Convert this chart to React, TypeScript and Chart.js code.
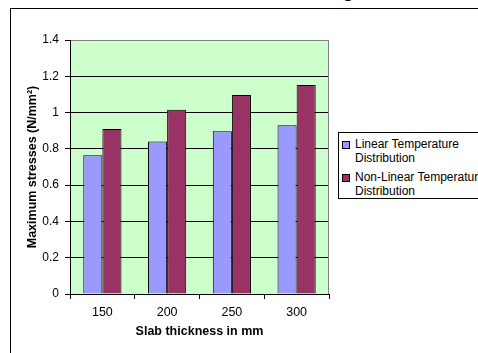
import React, { useEffect, useRef } from "react";
import { Chart, registerables } from "chart.js";

Chart.register(...registerables);

// Slab thickness categories (mm)
const categories = ["150", "200", "250", "300"];
// Maximum stresses (N/mm²) for each temperature distribution
const linearStress = [0.765, 0.84, 0.897, 0.93];
const nonLinearStress = [0.91, 1.016, 1.097, 1.152];

const seriesLabels = [
  ["Linear Temperature", "Distribution"],
  ["Non-Linear Temperature", "Distribution"],
];
const seriesColors = ["#9999FF", "#993366"];

const yMin = 0;
const yMax = 1.4;
const yStep = 0.2;

const FONT = "'Liberation Sans', Arial, Helvetica, sans-serif";

// Pale green plot area with a grey right edge
const plotFrame = {
  id: "plotFrame",
  beforeDraw(chart: any) {
    const { ctx, chartArea } = chart;
    const { left, top, right, bottom } = chartArea;
    ctx.save();
    ctx.fillStyle = "#CCFFCC";
    ctx.fillRect(left, top, right - left, bottom - top);
    ctx.restore();
  },
  beforeDatasetsDraw(chart: any) {
    const { ctx, chartArea } = chart;
    const { top, right, bottom } = chartArea;
    ctx.save();
    ctx.strokeStyle = "#808080";
    ctx.lineWidth = 1;
    ctx.beginPath();
    ctx.moveTo(Math.round(right) - 0.5, Math.round(top) + 0.5);
    ctx.lineTo(Math.round(right) - 0.5, Math.round(bottom));
    ctx.stroke();
    ctx.restore();
  },
};

export default function App() {
  const canvasRef = useRef<HTMLCanvasElement | null>(null);

  useEffect(() => {
    const canvas = canvasRef.current;
    if (!canvas) return;
    const chart = new Chart(canvas, {
      type: "bar",
      data: {
        labels: categories,
        datasets: [
          {
            label: seriesLabels[0].join(" "),
            data: linearStress,
            backgroundColor: seriesColors[0],
            borderColor: "#000000",
            borderWidth: 1,
            barPercentage: 1,
            categoryPercentage: 0.59,
          },
          {
            label: seriesLabels[1].join(" "),
            data: nonLinearStress,
            backgroundColor: seriesColors[1],
            borderColor: "#000000",
            borderWidth: 1,
            barPercentage: 1,
            categoryPercentage: 0.59,
          },
        ],
      },
      options: {
        responsive: false,
        animation: false,
        devicePixelRatio: 1,
        layout: { padding: { left: 20, right: 149, top: 40, bottom: 0 } },
        plugins: {
          legend: { display: false },
          tooltip: { enabled: false },
          title: { display: false },
        },
        scales: {
          x: {
            type: "category",
            offset: true,
            grid: {
              offset: true,
              drawOnChartArea: false,
              drawTicks: true,
              tickLength: 5,
              color: "#000000",
              tickColor: "#000000",
            },
            border: { color: "#000000", width: 1 },
            ticks: {
              color: "#000000",
              padding: 6,
              font: { family: FONT, size: 12.5 },
            },
            title: {
              display: true,
              text: "Slab thickness in mm",
              color: "#000000",
              font: { family: FONT, size: 12.5, weight: "bold" },
              padding: { top: 0, bottom: 14 },
            },
            afterFit(scale: any) {
              scale.height = 59;
            },
          },
          y: {
            min: yMin,
            max: yMax,
            grid: {
              drawTicks: true,
              tickLength: 5,
              color: (ctx: any) =>
                ctx.tick && Math.abs(ctx.tick.value - yMax) < 1e-9 ? "#808080" : "#000000",
              tickColor: "#000000",
            },
            border: { color: "#000000", width: 1 },
            ticks: {
              stepSize: yStep,
              color: "#000000",
              padding: 6,
              font: { family: FONT, size: 12 },
              callback: (value: any) => String(Number(Number(value).toFixed(1))),
            },
            title: {
              display: true,
              text: "Maximum stresses (N/mm²)",
              color: "#000000",
              font: { family: FONT, size: 12.5, weight: "bold" },
              padding: { top: 5, bottom: 0 },
            },
            afterFit(scale: any) {
              scale.width = 50;
            },
          },
        },
      },
      plugins: [plotFrame],
    });
    return () => chart.destroy();
  }, []);

  return (
    <div
      style={{
        position: "absolute",
        left: 0,
        top: 0,
        width: 478,
        height: 353,
        overflow: "hidden",
        background: "#ffffff",
      }}
    >
      <div
        style={{
          position: "absolute",
          left: 0,
          right: 126,
          top: -16,
          textAlign: "right",
          fontFamily: "'Liberation Serif', 'Times New Roman', serif",
          fontWeight: "bold",
          fontSize: 16,
          lineHeight: "16px",
          whiteSpace: "nowrap",
          color: "#000",
        }}
      >
        Maximum Stresses due to Thermal Loading
      </div>
      <div
        style={{
          position: "absolute",
          left: 10,
          top: 8,
          width: 520,
          height: 400,
          border: "1px solid #000",
          boxSizing: "border-box",
        }}
      />
      <canvas
        ref={canvasRef}
        width={478}
        height={353}
        style={{ position: "absolute", left: 0, top: 0, width: 478, height: 353 }}
      />
      <div
        style={{
          position: "absolute",
          left: 338,
          top: 132,
          width: 170,
          height: 67,
          border: "1px solid #000",
          boxSizing: "border-box",
          background: "#fff",
          fontFamily: FONT,
          fontSize: 12,
          color: "#000",
        }}
      >
        {seriesLabels.map((lines, i) => (
          <div
            key={i}
            style={{ position: "absolute", left: 3, top: 4 + i * 33, display: "flex" }}
          >
            <div
              style={{
                width: 8,
                height: 8,
                marginTop: 4,
                background: seriesColors[i],
                border: "1px solid #000",
                boxSizing: "border-box",
              }}
            />
            <div style={{ marginLeft: 5, lineHeight: "14px", whiteSpace: "nowrap" }}>
              {lines.map((t, j) => (
                <div key={j}>{t}</div>
              ))}
            </div>
          </div>
        ))}
      </div>
    </div>
  );
}
